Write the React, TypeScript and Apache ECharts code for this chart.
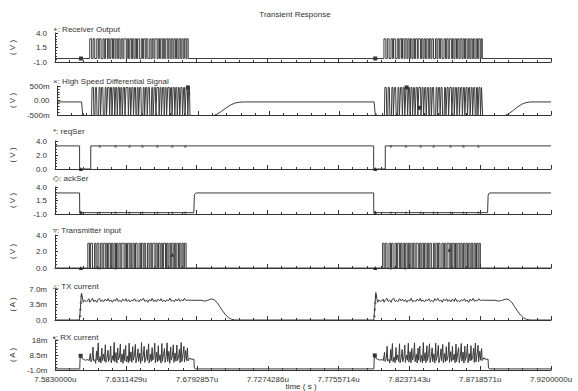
import React, { useEffect, useRef } from 'react';
import * as echarts from 'echarts';

// ---- axis / text data ----
const xStartMicro = 7.583;
const xSpanNs = 337;
const xTickLabels = ['7.5830000u', '7.6311429u', '7.6792857u', '7.7274286u', '7.7755714u', '7.8237143u', '7.8718571u', '7.9200000u'];
const chartTitle = 'Transient Response';
const xAxisTitle = 'time ( s )';
const panelTitles = ['+: Receiver Output', '×: High Speed Differential Signal', '*: reqSer', '◇: ackSer', '▿: Transmitter input', '▵: TX current', '▪: RX current'];
const panelUnits = ['( V )', '( V )', '( V )', '( V )', '( V )', '( A )', '( A )'];
const panelMin = [-1, -0.5, 0, -1, 0, 0, -1];
const panelMax = [4, 0.5, 4, 4, 4, 7, 18];
const panelTickLabels = [
  ['-1.0', '1.5', '4.0'],
  ['-500m', '0.00', '500m'],
  ['0.0', '2.0', '4.0'],
  ['-1.0', '1.5', '4.0'],
  ['0.0', '2.0', '4.0'],
  ['0.0', '3.5m', '7.0m'],
  ['-1.0m', '8.5m', '18m'],
];

// ---- waveform data (time in ns after 7.583u) ----
// Receiver output pulses [rise, fall]
const rxOutPulses = [
  [23.6, 24.9], [25.9, 27.0], [28.4, 29.4], [30.1, 31.3], [32.6, 33.5], [34.3, 35.6], [36.2, 37.2], [38.0, 39.1], [39.8, 40.8], [41.5, 42.6], [43.3, 44.2], [45.0, 46.1], [46.8, 48.4], [49.1, 50.0], [50.8, 51.9], [52.6, 53.6], [54.5, 55.4], [56.1, 57.3], [58.6, 59.5], [60.2, 61.3], [62.0, 63.1], [64.4, 65.3], [66.1, 67.2], [67.9, 69.4], [70.1, 71.0], [71.8, 72.9], [73.6, 74.5], [75.3, 76.6], [77.3, 78.2], [79.0, 80.1], [80.8, 81.8], [82.6, 83.5], [84.3, 85.4], [86.2, 87.1], [87.9, 89.0], [89.6, 90.5],
  [223.5, 224.8], [225.8, 227.0], [228.3, 229.4], [230.0, 231.2], [232.5, 233.5], [234.3, 235.5], [236.1, 237.2], [237.9, 239.1], [239.8, 240.7], [241.5, 242.5], [243.3, 244.2], [245.0, 246.2], [246.8, 248.3], [249.1, 250.0], [250.8, 251.8], [252.6, 253.6], [254.4, 255.4], [256.1, 257.2], [258.5, 259.5], [260.2, 261.3], [262.0, 263.0], [264.3, 265.3], [266.1, 267.1], [267.9, 269.3], [270.1, 271.0], [271.8, 272.8], [273.6, 274.5], [275.3, 276.5], [277.3, 278.2], [279.0, 280.0], [280.8, 281.8], [282.6, 283.5], [284.3, 285.3], [286.2, 287.1], [287.9, 288.9], [289.6, 290.3],
];
const rxOutLevels = [-0.4, 3.0];

// Differential signal
const diffPulses = [
  [23.2, 24.5], [25.5, 26.6], [28.0, 29.0], [29.7, 30.9], [32.2, 33.1], [33.9, 35.2], [35.8, 36.8], [37.6, 38.7], [39.4, 40.4], [41.1, 42.2], [42.9, 43.8], [44.6, 45.7], [46.4, 48.0], [48.7, 49.6], [50.4, 51.5], [52.2, 53.2], [54.1, 55.0], [55.7, 56.9], [58.2, 59.1], [59.8, 60.9], [61.6, 62.7], [64.0, 64.9], [65.7, 66.8], [67.5, 69.0], [69.7, 70.6], [71.4, 72.5], [73.2, 74.1], [74.9, 76.2], [76.9, 77.8], [78.6, 79.7], [80.4, 81.4], [82.2, 83.1], [83.9, 85.0], [85.8, 86.7], [87.5, 88.6], [89.2, 90.1],
];
const diffPulses2 = [
  [223.2, 224.5], [225.5, 226.6], [228.0, 229.0], [229.7, 230.9], [232.2, 233.1], [233.9, 235.1], [235.8, 236.8], [237.6, 238.7], [239.4, 240.4], [241.1, 242.1], [242.9, 243.8], [244.6, 245.7], [246.4, 247.9], [248.7, 249.6], [250.4, 251.4], [252.2, 253.2], [254.1, 255.0], [255.7, 256.8], [258.2, 259.1], [259.8, 260.9], [261.6, 262.6], [264.0, 264.9], [265.7, 266.7], [267.5, 268.9], [269.7, 270.6], [271.4, 272.4], [273.2, 274.1], [274.9, 276.1], [276.9, 277.8], [278.6, 279.6], [280.4, 281.4], [282.2, 283.1], [283.9, 284.9], [285.8, 286.7], [287.5, 288.5], [289.2, 290.0],
];
const diffLevels = [-0.55, 0.45];
const diffPre1 = [[0, -0.05], [16.4, -0.05], [16.8, -0.3], [17.2, -0.5], [17.6, -0.45], [18.0, -0.58], [18.6, -0.52], [19.4, -0.56], [21, -0.55]];
const diffMid = [[90.5, -0.55], [103.3, -0.55], [106, -0.53], [109, -0.47], [112, -0.37], [115, -0.26], [118, -0.16], [121, -0.09], [124, -0.06], [127, -0.05], [216.2, -0.05], [216.6, -0.3], [217.0, -0.5], [217.4, -0.45], [217.8, -0.58], [218.4, -0.52], [219.2, -0.56], [221, -0.55]];
const diffPost2 = [[290.5, -0.55], [302.5, -0.55], [305, -0.53], [308, -0.46], [311, -0.35], [314, -0.23], [317, -0.13], [320, -0.07], [323, -0.05], [337, -0.05]];

// reqSer / ackSer
const reqSer = [[0, 3.3], [16.7, 3.3], [16.7, 0], [24.3, 0], [24.3, 3.3], [216.5, 3.3], [216.5, 0], [224.4, 0], [224.4, 3.3], [337, 3.3]];
const ackSer = [[0, 2.9], [16.7, 2.9], [16.8, -0.75], [94.3, -0.75], [94.7, 2.5], [95.2, 2.8], [96, 2.9], [216.5, 2.9], [216.6, -0.75], [293.9, -0.75], [294.3, 2.5], [294.8, 2.8], [295.6, 2.9], [337, 2.9]];
const reqAckMarkT = [30.4, 41.2, 50.6, 59.4, 69.5, 79.7, 88.5, 228.2, 238.4, 248.5, 257.3, 268.8, 277.5, 287.6];

// Transmitter input
const txInPulses = [
  [22.3, 23.4], [24.2, 25.5], [26.9, 27.8], [28.6, 29.8], [31.0, 32.0], [32.8, 34.1], [34.8, 35.7], [36.5, 37.6], [38.3, 39.3], [40.1, 41.1], [41.8, 42.7], [43.5, 44.7], [45.4, 46.9], [47.7, 48.6], [49.3, 50.4], [51.1, 52.1], [53.0, 53.9], [54.7, 55.8], [57.1, 58.0], [58.8, 59.9], [60.6, 61.6], [62.9, 63.9], [64.6, 65.7], [66.4, 67.9], [68.6, 69.5], [70.3, 71.4], [72.1, 73.0], [73.8, 75.1], [75.8, 76.7], [77.5, 78.6], [79.3, 80.3], [81.1, 82.0], [82.8, 83.9], [84.7, 85.6], [86.4, 87.5], [88.1, 89.1],
  [222.6, 223.6], [224.4, 225.6], [226.9, 227.9], [228.6, 229.7], [231.0, 232.0], [232.8, 234.0], [234.8, 235.7], [236.5, 237.5], [238.3, 239.3], [240.1, 241.0], [241.8, 242.7], [243.5, 244.6], [245.4, 246.8], [247.7, 248.6], [249.3, 250.3], [251.1, 252.1], [253.0, 253.9], [254.7, 255.7], [257.1, 258.0], [258.8, 259.8], [260.6, 261.6], [262.9, 263.8], [264.6, 265.6], [266.4, 267.8], [268.6, 269.5], [270.3, 271.3], [272.1, 273.0], [273.8, 275.0], [275.8, 276.7], [277.5, 278.5], [279.3, 280.3], [281.1, 282.0], [282.8, 283.8], [284.7, 285.6], [286.4, 287.4], [288.1, 289.0],
];
const txInLevels = [0, 3.0];

// TX current (mA)
const txCur1 = [[0, 0], [16.6, 0], [17.0, 1.5], [17.5, 4.0], [18.0, 6.1], [18.5, 5.2], [19.2, 4.0], [20.0, 4.5], [21.0, 4.2],
  [22, 4.3], [23, 4.8], [23.6, 4.0], [24.5, 4.4], [25.5, 4.9], [26.3, 4.1], [27.3, 4.5], [28.4, 4.0], [29.2, 4.6], [30.1, 4.9], [31.0, 4.2], [32.2, 4.5], [33.0, 4.1], [34.1, 4.7], [35.2, 4.3], [36.0, 4.8], [37.0, 4.2], [38.1, 4.5], [39.0, 4.0], [40.0, 4.6], [41.1, 4.3], [42.0, 4.9], [43.0, 4.2], [44.1, 4.4], [45.2, 4.1], [46.0, 4.7], [47.3, 4.3], [48.2, 4.8], [49.0, 4.2], [50.1, 4.6], [51.0, 4.1], [52.2, 4.5], [53.0, 4.3], [54.0, 4.8], [55.1, 4.2], [56.0, 4.5], [57.2, 4.1], [58.0, 4.7], [59.0, 4.4], [60.1, 4.9], [61.0, 4.2], [62.2, 4.5], [63.1, 4.0], [64.0, 4.6], [65.2, 4.3], [66.0, 4.9], [67.0, 4.2], [68.1, 4.5], [69.0, 4.1], [70.0, 4.7], [71.2, 4.3], [72.0, 4.8], [73.0, 4.2], [74.1, 4.5], [75.0, 4.1], [76.1, 4.6], [77.0, 4.3], [78.2, 4.9], [79.0, 4.2], [80.0, 4.5], [81.1, 4.1], [82.0, 4.7], [83.0, 4.3], [84.1, 4.8], [85.0, 4.2], [86.2, 4.6], [87.0, 4.3], [88.0, 4.9], [89.0, 4.4], [90.0, 4.5],
  [92, 4.45], [99.9, 4.45], [101.5, 4.25], [103.5, 4.4], [106.2, 4.75], [108.0, 4.6], [110, 4.0], [112, 3.0], [114, 2.0], [116, 1.1], [118, 0.5], [120, 0.15], [122, 0.02], [124, 0]];
const txCur2 = [[216.6, 0], [217.0, 1.5], [217.5, 4.0], [218.0, 6.2], [218.5, 5.2], [219.2, 4.0], [220.0, 4.5], [221.0, 4.2],
  [222, 4.3], [223, 4.7], [223.6, 4.0], [224.5, 4.5], [225.5, 4.9], [226.3, 4.2], [227.3, 4.5], [228.4, 4.0], [229.2, 4.7], [230.1, 4.9], [231.0, 4.2], [232.2, 4.4], [233.0, 4.1], [234.1, 4.8], [235.2, 4.3], [236.0, 4.7], [237.0, 4.2], [238.1, 4.6], [239.0, 4.0], [240.0, 4.5], [241.1, 4.3], [242.0, 4.9], [243.0, 4.1], [244.1, 4.4], [245.2, 4.2], [246.0, 4.7], [247.3, 4.3], [248.2, 4.9], [249.0, 4.2], [250.1, 4.5], [251.0, 4.1], [252.2, 4.6], [253.0, 4.3], [254.0, 4.8], [255.1, 4.2], [256.0, 4.4], [257.2, 4.1], [258.0, 4.8], [259.0, 4.4], [260.1, 4.9], [261.0, 4.3], [262.2, 4.5], [263.1, 4.0], [264.0, 4.7], [265.2, 4.3], [266.0, 4.8], [267.0, 4.2], [268.1, 4.6], [269.0, 4.1], [270.0, 4.7], [271.2, 4.2], [272.0, 4.9], [273.0, 4.2], [274.1, 4.4], [275.0, 4.1], [276.1, 4.6], [277.0, 4.3], [278.2, 4.8], [279.0, 4.2], [280.0, 4.5], [281.1, 4.0], [282.0, 4.7], [283.0, 4.3], [284.1, 4.9], [285.0, 4.2], [286.2, 4.5], [287.0, 4.3], [288.0, 4.8], [289.0, 4.4], [290.0, 4.5],
  [292, 4.45], [299.5, 4.45], [301.1, 4.25], [303.5, 4.4], [306.5, 4.75], [308.3, 4.6], [310.3, 4.0], [312.3, 3.0], [314.3, 2.0], [316.3, 1.1], [318.3, 0.5], [320.3, 0.15], [322.3, 0.02], [324.3, 0], [337, 0]];

// RX current (mA)
const rxCur1 = [[0, -0.3], [16.6, -0.3], [16.8, 6.0], [17.4, 9.0], [18.0, 6.5], [19.0, 5.8], [20.5, 5.2], [22.0, 5.6], [23.0, 5.0],
  [23.8, 9.5], [24.2, 4.2], [25.0, 6.0], [25.6, 13.5], [26.0, 4.8], [26.8, 5.5], [27.4, 3.2], [28.0, 11.0], [28.4, 5.2], [29.2, 16.2], [29.6, 4.0], [30.4, 7.5], [31.0, 3.5], [31.6, 12.8], [32.0, 5.0], [32.8, 9.0], [33.4, 4.6], [34.0, 15.0], [34.4, 3.8], [35.2, 6.8], [35.8, 11.5], [36.2, 4.4], [37.0, 7.0], [37.6, 14.2], [38.0, 3.6], [38.8, 8.0], [39.4, 5.0], [40.0, 16.5], [40.4, 4.2], [41.2, 10.0], [41.8, 3.4], [42.4, 13.0], [42.8, 5.4], [43.6, 7.2], [44.2, 15.5], [44.6, 4.0], [45.4, 9.2], [46.0, 3.2], [46.6, 12.0], [47.0, 5.0], [47.8, 14.6], [48.2, 4.2], [49.0, 7.8], [49.6, 3.6], [50.2, 16.0], [50.6, 4.6], [51.4, 10.5], [52.0, 3.8], [52.6, 13.8], [53.0, 5.2], [53.8, 8.4], [54.4, 15.2], [54.8, 3.6], [55.6, 7.0], [56.2, 12.4], [56.6, 4.4], [57.4, 9.6], [58.0, 3.2], [58.6, 16.4], [59.0, 4.8], [59.8, 8.2], [60.4, 14.0], [60.8, 3.8], [61.6, 6.6], [62.2, 11.8], [62.6, 5.0], [63.4, 15.6], [63.8, 3.4], [64.6, 9.0], [65.2, 4.4], [65.8, 13.2], [66.2, 5.2], [67.0, 7.4], [67.6, 16.0], [68.0, 3.6], [68.8, 10.2], [69.4, 4.2], [70.0, 14.4], [70.4, 5.0], [71.2, 8.6], [71.8, 3.4], [72.4, 15.8], [72.8, 4.6], [73.6, 9.4], [74.2, 12.6], [74.6, 3.8], [75.4, 7.6], [76.0, 16.2], [76.4, 4.4], [77.2, 10.8], [77.8, 3.2], [78.4, 13.6], [78.8, 5.2], [79.6, 8.0], [80.2, 15.0], [80.6, 3.8], [81.4, 9.8], [82.0, 4.6], [82.6, 14.8], [83.0, 5.0], [83.8, 7.2], [84.4, 12.2], [84.8, 3.6], [85.6, 16.4], [86.0, 4.4], [86.8, 9.0], [87.4, 14.0], [87.8, 4.0], [88.6, 11.4], [89.2, 5.0], [89.8, 13.0], [90.2, 4.8],
  [90.8, 5.8], [91.5, 6.6], [92.0, 5.9], [94.2, 5.8], [94.5, 0.2], [95.5, -0.3]];
const rxCur2 = [[216.6, -0.3], [216.8, 6.0], [217.4, 9.2], [218.0, 6.4], [219.0, 5.8], [220.5, 5.3], [222.0, 5.6], [223.0, 5.0],
  [223.8, 10.2], [224.2, 4.4], [225.0, 6.2], [225.6, 14.0], [226.0, 4.6], [226.8, 5.8], [227.4, 3.4], [228.0, 12.0], [228.4, 5.0], [229.2, 15.8], [229.6, 4.2], [230.4, 7.2], [231.0, 3.6], [231.6, 13.2], [232.0, 5.2], [232.8, 8.6], [233.4, 4.4], [234.0, 15.6], [234.4, 3.6], [235.2, 7.0], [235.8, 12.0], [236.2, 4.2], [237.0, 7.4], [237.6, 14.8], [238.0, 3.8], [238.8, 8.4], [239.4, 5.2], [240.0, 16.0], [240.4, 4.0], [241.2, 10.6], [241.8, 3.6], [242.4, 12.6], [242.8, 5.2], [243.6, 7.6], [244.2, 16.2], [244.6, 4.2], [245.4, 9.0], [246.0, 3.4], [246.6, 12.8], [247.0, 5.2], [247.8, 14.2], [248.2, 4.0], [249.0, 8.2], [249.6, 3.4], [250.2, 16.4], [250.6, 4.8], [251.4, 10.0], [252.0, 3.6], [252.6, 14.4], [253.0, 5.0], [253.8, 8.8], [254.4, 15.6], [254.8, 3.8], [255.6, 7.4], [256.2, 13.0], [256.6, 4.2], [257.4, 9.2], [258.0, 3.4], [258.6, 16.0], [259.0, 5.0], [259.8, 8.6], [260.4, 14.6], [260.8, 3.6], [261.6, 7.0], [262.2, 12.4], [262.6, 4.8], [263.4, 15.2], [263.8, 3.6], [264.6, 9.4], [265.2, 4.2], [265.8, 13.8], [266.2, 5.0], [267.0, 7.8], [267.6, 16.6], [268.0, 3.8], [268.8, 10.6], [269.4, 4.4], [270.0, 14.0], [270.4, 5.2], [271.2, 9.0], [271.8, 3.6], [272.4, 15.4], [272.8, 4.4], [273.6, 9.8], [274.2, 13.2], [274.6, 3.6], [275.4, 8.0], [276.0, 15.8], [276.4, 4.6], [277.2, 10.4], [277.8, 3.4], [278.4, 14.2], [278.8, 5.0], [279.6, 8.4], [280.2, 15.4], [280.6, 3.6], [281.4, 9.4], [282.0, 4.8], [282.6, 14.4], [283.0, 5.2], [283.8, 7.6], [284.4, 12.8], [284.8, 3.8], [285.6, 16.0], [286.0, 4.2], [286.8, 9.4], [287.4, 14.6], [287.8, 4.2], [288.6, 11.0], [289.2, 5.2], [289.8, 12.6], [290.2, 5.0],
  [290.8, 5.8], [291.5, 6.8], [292.0, 5.9], [294.2, 5.8], [294.5, 0.2], [295.5, -0.3], [337, -0.3]];

// markers [time, value]
const markBlack = [
  [[17.6, -0.4], [217.6, -0.4]],
  [[17.8, -0.55], [89.0, 0.45], [217.8, -0.55], [238.4, 0.45], [247.0, -0.25]],
  [[17.6, 0], [217.6, 0]],
  [[17.6, -0.75], [217.6, -0.75]],
  [[17.6, 0], [217.6, 0], [79.7, 1.6], [268.0, 2.2]],
  [],
  [[17.2, 8.0], [217.2, 8.2]],
];
const markSmall = [
  [],
  [],
  reqAckMarkT.map((t) => [t, 3.3]),
  reqAckMarkT.map((t) => [t, -0.75]),
  [[30.0, 0], [41.0, 0], [228.0, 0], [238.0, 0]],
  [[17.0, 1.0], [17.3, 2.5], [17.6, 4.0], [18.0, 5.6], [217.0, 1.0], [217.3, 2.5], [217.6, 4.0], [218.0, 5.6]],
  [],
];
const markSymbols = ['rect', 'rect', 'triangle', 'diamond', 'triangle', 'triangle', 'rect'];

// ---- layout ----
const W = 578;
const H = 391;
const gridLeft = 52;
const gridRight = 551;
const panelTop = [33, 86, 141, 187, 235, 289, 340];
const panelBottom = [62, 115, 169, 214, 268, 320, 370];
const panelTitleY = [29, 81, 131, 178, 230, 286, 337];
const FONT = 'Liberation Sans, Arial, sans-serif';
const INK = '#333';

function digital(pairs: number[][], lo: number, hi: number) {
  const out: number[][] = [[0, lo]];
  for (const [r, f] of pairs) out.push([r, lo], [r, hi], [f, hi], [f, lo]);
  out.push([xSpanNs, lo]);
  return out;
}
function trapezoid(pairs: number[][], lo: number, hi: number, slew: number) {
  const out: number[][] = [];
  for (const [r, f] of pairs) out.push([r, lo], [r + slew, hi], [f, hi], [f + slew, lo]);
  return out;
}

export default function App() {
  const ref = useRef<HTMLDivElement>(null);
  useEffect(() => {
    document.body.style.margin = '0';
    const chart = echarts.init(ref.current!, undefined, { renderer: 'svg' });
    const waves: number[][][] = [
      digital(rxOutPulses, rxOutLevels[0], rxOutLevels[1]),
      [...diffPre1, ...trapezoid(diffPulses, diffLevels[0], diffLevels[1], 0.35), ...diffMid, ...trapezoid(diffPulses2, diffLevels[0], diffLevels[1], 0.35), ...diffPost2],
      reqSer,
      ackSer,
      digital(txInPulses, txInLevels[0], txInLevels[1]),
      [...txCur1, ...txCur2],
      [...rxCur1, ...rxCur2],
    ];
    const grids: any[] = [];
    const xAxes: any[] = [];
    const yAxes: any[] = [];
    const series: any[] = [];
    const xInterval = xSpanNs / 7;
    waves.forEach((w, i) => {
      const span = panelMax[i] - panelMin[i];
      const last = i === waves.length - 1;
      grids.push({ left: gridLeft, width: gridRight - gridLeft, top: panelTop[i], height: panelBottom[i] - panelTop[i] });
      xAxes.push({
        type: 'value', gridIndex: i, min: 0, max: xSpanNs, interval: xInterval,
        axisLine: { onZero: false, lineStyle: { color: INK, width: 1 } },
        axisTick: { inside: true, length: 4, lineStyle: { color: INK } },
        minorTick: { show: true, splitNumber: 5, length: 2, lineStyle: { color: INK } },
        splitLine: { show: false },
        axisLabel: {
          show: last, fontSize: 8, fontFamily: FONT, color: INK, margin: 5,
          formatter: (v: number) => xTickLabels[Math.round(v / xInterval)] ?? '',
        },
      });
      yAxes.push({
        type: 'value', gridIndex: i, min: 0, max: span, interval: span / 2,
        name: panelUnits[i], nameLocation: 'middle', nameGap: 39, nameRotate: 90,
        nameTextStyle: { fontSize: 8, fontFamily: FONT, color: INK },
        axisLine: { show: true, lineStyle: { color: INK, width: 1 } },
        axisTick: { inside: true, length: 3, lineStyle: { color: INK } },
        minorTick: { show: true, splitNumber: 5, length: 2, lineStyle: { color: INK } },
        splitLine: { show: false },
        axisLabel: {
          fontSize: 8, fontFamily: FONT, color: INK, margin: 8,
          formatter: (v: number) => panelTickLabels[i][Math.round(v / (span / 2))] ?? '',
        },
      });
      series.push({
        type: 'line', xAxisIndex: i, yAxisIndex: i, showSymbol: false, silent: true,
        lineStyle: { color: '#3a3a3a', width: 1 },
        data: w.map(([t, v]) => [t, v - panelMin[i]]),
      });
      series.push({
        type: 'scatter', xAxisIndex: i, yAxisIndex: i, silent: true, symbol: markSymbols[i], symbolSize: 3,
        itemStyle: { color: '#555' },
        data: markSmall[i].map(([t, v]) => [t, v - panelMin[i]]),
      });
      series.push({
        type: 'scatter', xAxisIndex: i, yAxisIndex: i, silent: true, symbol: markSymbols[i], symbolSize: 4,
        itemStyle: { color: '#000' },
        data: markBlack[i].map(([t, v]) => [t, v - panelMin[i]]),
      });
    });
    const graphic: any[] = [
      { type: 'text', x: 295, y: 14, style: { text: chartTitle, fontSize: 8, fontFamily: FONT, fill: INK, align: 'center', verticalAlign: 'middle' } },
      { type: 'text', x: 301, y: 386, style: { text: xAxisTitle, fontSize: 8, fontFamily: FONT, fill: INK, align: 'center', verticalAlign: 'middle' } },
      ...panelTitles.map((t, i) => ({
        type: 'text', x: gridLeft + 1, y: panelTitleY[i],
        style: { text: t, fontSize: 8, fontFamily: FONT, fill: INK, align: 'left', verticalAlign: 'middle' },
      })),
    ];
    chart.setOption({
      animation: false,
      backgroundColor: '#fff',
      grid: grids,
      xAxis: xAxes,
      yAxis: yAxes,
      series,
      graphic,
    });
    return () => chart.dispose();
  }, []);
  return <div ref={ref} style={{ width: W, height: H }} />;
}
